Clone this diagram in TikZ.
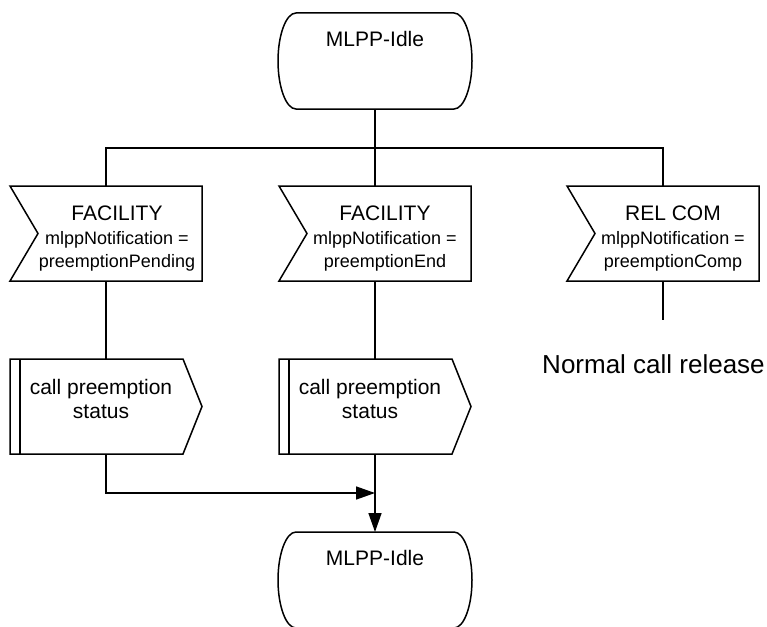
\documentclass[tikz,border=0pt]{standalone}
\usepackage{fontspec}
\setmainfont{Liberation Sans}
\usetikzlibrary{arrows.meta}
\begin{document}
\begin{tikzpicture}[x=1pt, y=-1pt, line width=1.5pt,
  frame/.style={draw=none, inner sep=0pt, outer sep=0pt},
  statebox/.style={frame, minimum width=194pt, minimum height=96pt},
  sigbox/.style={frame, minimum width=192pt, minimum height=95pt},
  procbox/.style={frame, minimum width=192pt, minimum height=95pt},
  lbl/.style={inner sep=0pt, align=center, font=\fontsize{21}{24}\selectfont},
  siglbl/.style={inner sep=0pt, align=center, anchor=north, font=\fontsize{18}{22.5}\selectfont},
  flow/.style={-{Triangle[length=19pt,width=13pt]}}
]
\useasboundingbox (0,0) rectangle (767,626);

% state, input and procedure-call boxes (outlines drawn below)
\node[statebox] (top) at (375,61) {};
\node[sigbox] (s1) at (106,233.5) {};
\node[sigbox] (s2) at (375,233.5) {};
\node[sigbox] (s3) at (663,233.5) {};
\node[procbox] (p1) at (106,406.5) {};
\node[procbox] (p2) at (375,406.5) {};
\node[statebox] (bot) at (375,580) {};

% state outlines: straight top and bottom, elliptic bulging sides
\foreach \n in {top,bot} {
  \draw ([xshift=18pt]\n.north west) -- ([xshift=-18pt]\n.north east)
    .. controls ([xshift=-8pt]\n.north east) and ([yshift=26pt]\n.east) .. (\n.east)
    .. controls ([yshift=-26pt]\n.east) and ([xshift=-8pt]\n.south east) .. ([xshift=-18pt]\n.south east)
    -- ([xshift=18pt]\n.south west)
    .. controls ([xshift=8pt]\n.south west) and ([yshift=-26pt]\n.west) .. (\n.west)
    .. controls ([yshift=26pt]\n.west) and ([xshift=8pt]\n.north west) .. cycle;
}

% input signal outlines: notch on the left
\foreach \n in {s1,s2,s3} {
  \draw (\n.north west) -- (\n.north east) -- (\n.south east) -- (\n.south west)
    -- ([xshift=28pt]\n.west) -- cycle;
}

% procedure call outlines: point on the right, double bar on the left
\foreach \n in {p1,p2} {
  \draw (\n.north west) -- ([xshift=-19pt]\n.north east) -- (\n.east)
    -- ([xshift=-19pt]\n.south east) -- (\n.south west) -- cycle;
  \draw ([xshift=10pt]\n.north west) -- ([xshift=10pt]\n.south west);
}

% texts
\node[lbl, anchor=base] (toplbl) at (375,46) {MLPP-Idle};
\node[lbl, anchor=base] (botlbl) at (375,565) {MLPP-Idle};
\node[siglbl] (s1lbl) at (117,205) {{\fontsize{21}{24}\selectfont FACILITY}\\[2pt]mlppNotification =\\preemptionPending};
\node[siglbl] (s2lbl) at (385,205) {{\fontsize{21}{24}\selectfont FACILITY}\\[2pt]mlppNotification =\\preemptionEnd};
\node[siglbl] (s3lbl) at (673,205) {{\fontsize{21}{24}\selectfont REL COM}\\[2pt]mlppNotification =\\preemptionComp};
\node[lbl, anchor=north] (p1lbl) at (101,379) {call preemption\\status};
\node[lbl, anchor=north] (p2lbl) at (370,379) {call preemption\\status};
\node[inner sep=0pt, anchor=base, font=\fontsize{26}{30}\selectfont] (note) at (653.5,373) {Normal call release};

% connectors
\coordinate (bus) at (375,148);
\coordinate (s3end) at (663,320);
\coordinate (merge) at (375,493);
\draw (top.south) -- (s2.north);
\draw (s1.north) |- (bus) -| (s3.north);
\draw (s1.south) -- (p1.north);
\draw (s2.south) -- (p2.north);
\draw (s3.south) -- (s3end);
\draw[flow] (p1.south) |- (merge);
\draw[flow] (p2.south) -- (bot.north);
\end{tikzpicture}
\end{document}
